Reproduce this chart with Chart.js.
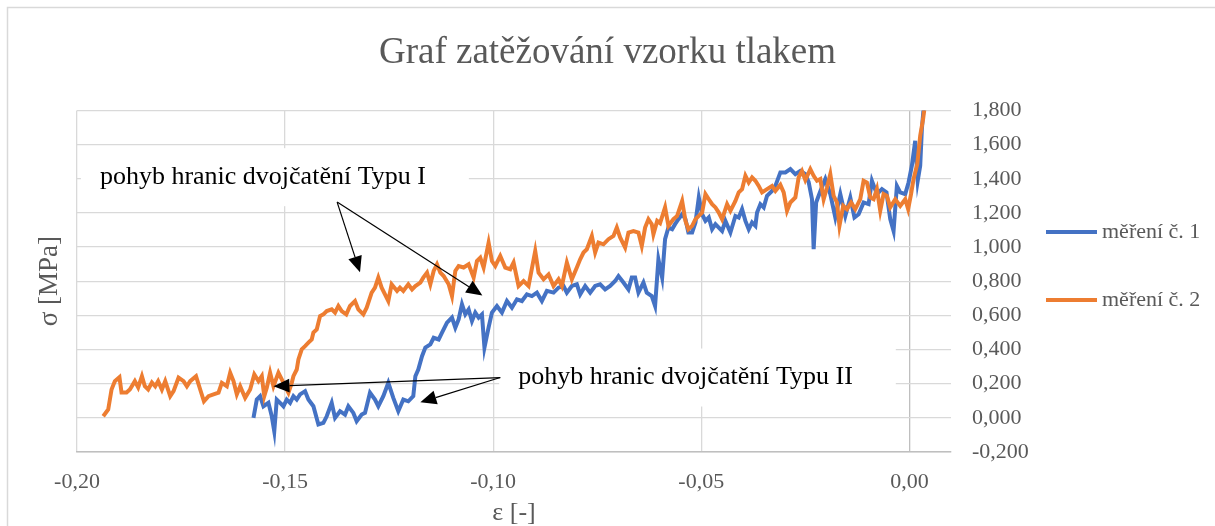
<!DOCTYPE html>
<html lang="cs">
<head>
<meta charset="utf-8">
<title>Graf zatěžování vzorku tlakem</title>
<script src="https://cdn.jsdelivr.net/npm/chart.js@4.4.1/dist/chart.umd.min.js"></script>
<style>
    html, body { margin: 0; padding: 0; background: #fff; }
    #obal { width: 1215px; height: 526px; }
</style>
</head>
<body>
<div id="obal"><canvas id="graf"></canvas></div>
<script>
// měření č. 1 (modrá)
var eps1 = [
    -0.1576, -0.1568, -0.1560, -0.1552, -0.1540, -0.1532, -0.1526, -0.1520, -0.1512, -0.1504,
    -0.1496, -0.1488, -0.1480, -0.1472, -0.1464, -0.1452, -0.1444, -0.1432, -0.1420, -0.1408,
    -0.1400, -0.1388, -0.1380, -0.1368, -0.1356, -0.1348, -0.1336, -0.1328, -0.1316, -0.1308,
    -0.1296, -0.1284, -0.1276, -0.1264, -0.1252, -0.1240, -0.1228, -0.1216, -0.1204, -0.1192,
    -0.1187, -0.1180, -0.1171, -0.1163, -0.1151, -0.1143, -0.1131, -0.1123, -0.1111, -0.1099,
    -0.1091, -0.1083, -0.1075, -0.1067, -0.1059, -0.1051, -0.1043, -0.1035, -0.1027, -0.1021,
    -0.1011, -0.1003, -0.0991, -0.0979, -0.0967, -0.0955, -0.0943, -0.0931, -0.0919, -0.0907,
    -0.0895, -0.0883, -0.0871, -0.0855, -0.0843, -0.0831, -0.0823, -0.0811, -0.0799, -0.0791,
    -0.0779, -0.0767, -0.0755, -0.0743, -0.0731, -0.0719, -0.0707, -0.0699, -0.0687, -0.0675,
    -0.0667, -0.0659, -0.0651, -0.0639, -0.0631, -0.0619, -0.0611, -0.0603, -0.0594, -0.0587,
    -0.0579, -0.0570, -0.0563, -0.0555, -0.0546, -0.0538, -0.0531, -0.0522, -0.0514, -0.0506,
    -0.0498, -0.0490, -0.0482, -0.0474, -0.0466, -0.0458, -0.0450, -0.0442, -0.0430, -0.0418,
    -0.0410, -0.0402, -0.0394, -0.0386, -0.0378, -0.0370, -0.0366, -0.0358, -0.0350, -0.0342,
    -0.0330, -0.0322, -0.0310, -0.0298, -0.0286, -0.0274, -0.0262, -0.0250, -0.0242, -0.0234,
    -0.0230, -0.0224, -0.0214, -0.0202, -0.0190, -0.0178, -0.0166, -0.0154, -0.0142, -0.0132,
    -0.0122, -0.0110, -0.0098, -0.0090, -0.0078, -0.0066, -0.0055, -0.0046, -0.0038, -0.0030,
    -0.0022, -0.0010, -0.0002, 0.0006, 0.0014, 0.0020, 0.0026, 0.0030, 0.0034, 0.0036
];
var sig1 = [
    0.000, 0.107, 0.127, 0.068, 0.088, 0.009, -0.079, 0.107, 0.088, 0.068,
    0.107, 0.088, 0.127, 0.107, 0.137, 0.156, 0.107, 0.068, -0.039, -0.029,
    0.009, 0.088, 0.000, 0.039, 0.019, 0.068, 0.029, -0.020, 0.019, 0.029,
    0.147, 0.107, 0.068, 0.127, 0.205, 0.117, 0.039, 0.107, 0.097, 0.127,
    0.244, 0.283, 0.361, 0.411, 0.430, 0.469, 0.459, 0.499, 0.557, 0.587,
    0.528, 0.577, 0.665, 0.606, 0.635, 0.567, 0.616, 0.587, 0.606, 0.411,
    0.530, 0.616, 0.655, 0.616, 0.684, 0.645, 0.694, 0.684, 0.723, 0.713,
    0.733, 0.684, 0.743, 0.733, 0.762, 0.772, 0.733, 0.772, 0.782, 0.723,
    0.772, 0.733, 0.772, 0.782, 0.752, 0.772, 0.801, 0.830, 0.792, 0.752,
    0.821, 0.821, 0.733, 0.792, 0.733, 0.713, 0.655, 0.928, 0.821, 1.046,
    1.114, 1.104, 1.134, 1.163, 1.192, 1.163, 1.085, 1.085, 1.144, 1.290,
    1.192, 1.153, 1.173, 1.104, 1.134, 1.114, 1.094, 1.153, 1.085, 1.182,
    1.173, 1.222, 1.153, 1.104, 1.144, 1.124, 1.202, 1.251, 1.232, 1.300,
    1.329, 1.358, 1.437, 1.437, 1.456, 1.427, 1.446, 1.427, 1.380, 1.280,
    0.987, 1.261, 1.327, 1.398, 1.310, 1.173, 1.310, 1.182, 1.290, 1.173,
    1.192, 1.261, 1.251, 1.388, 1.310, 1.339, 1.320, 1.163, 1.094, 1.358,
    1.320, 1.310, 1.378, 1.476, 1.622, 1.388, 1.476, 1.690, 1.808, 1.850
];

// měření č. 2 (oranžová)
var eps2 = [
    -0.1937, -0.1925, -0.1917, -0.1909, -0.1898, -0.1893, -0.1881, -0.1873, -0.1861, -0.1853,
    -0.1844, -0.1837, -0.1829, -0.1820, -0.1812, -0.1805, -0.1796, -0.1788, -0.1776, -0.1768,
    -0.1756, -0.1744, -0.1736, -0.1728, -0.1714, -0.1704, -0.1695, -0.1684, -0.1672, -0.1660,
    -0.1652, -0.1640, -0.1632, -0.1624, -0.1616, -0.1608, -0.1596, -0.1584, -0.1574, -0.1564,
    -0.1556, -0.1550, -0.1544, -0.1536, -0.1528, -0.1516, -0.1508, -0.1492, -0.1484, -0.1480,
    -0.1472, -0.1468, -0.1460, -0.1452, -0.1444, -0.1436, -0.1432, -0.1424, -0.1416, -0.1408,
    -0.1400, -0.1388, -0.1380, -0.1372, -0.1364, -0.1353, -0.1344, -0.1332, -0.1324, -0.1312,
    -0.1304, -0.1292, -0.1284, -0.1276, -0.1268, -0.1260, -0.1252, -0.1244, -0.1231, -0.1224,
    -0.1216, -0.1204, -0.1195, -0.1187, -0.1175, -0.1168, -0.1159, -0.1151, -0.1143, -0.1135,
    -0.1127, -0.1119, -0.1107, -0.1099, -0.1091, -0.1083, -0.1071, -0.1059, -0.1047, -0.1039,
    -0.1031, -0.1023, -0.1011, -0.1003, -0.0995, -0.0983, -0.0971, -0.0959, -0.0951, -0.0939,
    -0.0927, -0.0915, -0.0899, -0.0891, -0.0879, -0.0867, -0.0855, -0.0843, -0.0835, -0.0823,
    -0.0811, -0.0799, -0.0791, -0.0783, -0.0775, -0.0763, -0.0755, -0.0747, -0.0735, -0.0723,
    -0.0711, -0.0703, -0.0695, -0.0683, -0.0675, -0.0663, -0.0651, -0.0643, -0.0635, -0.0627,
    -0.0619, -0.0615, -0.0606, -0.0599, -0.0587, -0.0579, -0.0567, -0.0558, -0.0546, -0.0538,
    -0.0531, -0.0522, -0.0514, -0.0506, -0.0498, -0.0490, -0.0482, -0.0474, -0.0466, -0.0458,
    -0.0450, -0.0438, -0.0430, -0.0418, -0.0410, -0.0402, -0.0394, -0.0386, -0.0378, -0.0370,
    -0.0362, -0.0354, -0.0342, -0.0330, -0.0322, -0.0310, -0.0302, -0.0294, -0.0286, -0.0274,
    -0.0266, -0.0258, -0.0250, -0.0238, -0.0230, -0.0222, -0.0214, -0.0206, -0.0198, -0.0190,
    -0.0182, -0.0174, -0.0168, -0.0159, -0.0150, -0.0140, -0.0130, -0.0118, -0.0110, -0.0102,
    -0.0094, -0.0086, -0.0078, -0.0070, -0.0062, -0.0054, -0.0046, -0.0034, -0.0022, -0.0010,
    -0.0003, 0.0004, 0.0010, 0.0019, 0.0026, 0.0033, 0.0036, 0.0038
];
var sig2 = [
    0.009, 0.049, 0.166, 0.215, 0.238, 0.148, 0.148, 0.166, 0.215, 0.178,
    0.244, 0.185, 0.166, 0.207, 0.185, 0.215, 0.166, 0.215, 0.127, 0.156,
    0.235, 0.215, 0.185, 0.215, 0.244, 0.166, 0.097, 0.127, 0.137, 0.147,
    0.205, 0.185, 0.264, 0.215, 0.137, 0.185, 0.117, 0.166, 0.254, 0.215,
    0.244, 0.127, 0.176, 0.264, 0.185, 0.264, 0.225, 0.147, 0.205, 0.244,
    0.283, 0.342, 0.401, 0.420, 0.440, 0.459, 0.499, 0.518, 0.596, 0.606,
    0.625, 0.635, 0.616, 0.655, 0.625, 0.606, 0.655, 0.684, 0.635, 0.606,
    0.645, 0.733, 0.762, 0.821, 0.762, 0.723, 0.684, 0.782, 0.743, 0.762,
    0.743, 0.782, 0.752, 0.772, 0.792, 0.821, 0.850, 0.782, 0.860, 0.899,
    0.850, 0.830, 0.782, 0.713, 0.860, 0.889, 0.880, 0.899, 0.821, 0.918,
    0.938, 0.880, 1.026, 0.918, 0.889, 0.948, 0.880, 0.870, 0.909, 0.772,
    0.801, 0.772, 0.977, 0.850, 0.811, 0.840, 0.772, 0.811, 0.772, 0.909,
    0.811, 0.880, 0.928, 0.968, 0.987, 1.065, 0.968, 1.026, 1.016, 1.046,
    1.065, 1.114, 1.056, 0.997, 1.085, 1.094, 1.085, 1.006, 1.114, 1.163,
    1.134, 1.075, 1.153, 1.140, 1.232, 1.124, 1.163, 1.182, 1.270, 1.153,
    1.104, 1.124, 1.163, 1.182, 1.202, 1.310, 1.280, 1.251, 1.232, 1.202,
    1.163, 1.251, 1.212, 1.270, 1.320, 1.339, 1.417, 1.378, 1.408, 1.388,
    1.358, 1.320, 1.339, 1.358, 1.329, 1.364, 1.320, 1.212, 1.261, 1.290,
    1.409, 1.445, 1.392, 1.456, 1.417, 1.388, 1.398, 1.280, 1.349, 1.427,
    1.300, 1.261, 1.124, 1.241, 1.222, 1.261, 1.222, 1.280, 1.388, 1.378,
    1.290, 1.280, 1.339, 1.212, 1.310, 1.300, 1.232, 1.280, 1.241, 1.280,
    1.222, 1.310, 1.398, 1.486, 1.652, 1.750, 1.808, 1.840
];

var nazvySerii = ["měření č. 1", "měření č. 2"];
var xTicks = [-0.20, -0.15, -0.10, -0.05, 0.00];
var yTicks = [-0.2, 0.0, 0.2, 0.4, 0.6, 0.8, 1.0, 1.2, 1.4, 1.6, 1.8];

// popisky se šipkami, souřadnice v jednotkách os
var popisky = [
    { text: "pohyb hranic dvojčatění Typu I", x: -0.1945, y: 1.409,
      od: [-0.1375, 1.263], k: [[-0.1320, 0.852], [-0.1026, 0.717]] },
    { text: "pohyb hranic dvojčatění Typu II", x: -0.0940, y: 0.236,
      od: [-0.0983, 0.236], k: [[-0.1528, 0.185], [-0.1175, 0.091]] }
];

var PISMO = "'Liberation Serif', 'Times New Roman', serif";
var SEDA = "#595959";

document.addEventListener("DOMContentLoaded", iniciarGraf);

function body(xs, ys) {
    return xs.map(function (x, i) { return { x: x, y: ys[i] }; });
}

function sipka(ctx, x0, y0, x1, y1) {
    var uhel = Math.atan2(y1 - y0, x1 - x0);
    var delka = 16, sirka = 7;
    var bx = x1 - delka * Math.cos(uhel), by = y1 - delka * Math.sin(uhel);
    ctx.beginPath();
    ctx.moveTo(x0, y0);
    ctx.lineTo(bx, by);
    ctx.stroke();
    ctx.beginPath();
    ctx.moveTo(x1, y1);
    ctx.lineTo(bx + sirka * Math.sin(uhel), by - sirka * Math.cos(uhel));
    ctx.lineTo(bx - sirka * Math.sin(uhel), by + sirka * Math.cos(uhel));
    ctx.closePath();
    ctx.fill();
}

var doplnky = {
    id: "doplnky",
    beforeDraw: function (chart) {
        var ctx = chart.ctx;
        ctx.save();
        ctx.strokeStyle = "#d9d9d9";
        ctx.lineWidth = 1.5;
        ctx.strokeRect(7.5, 7.5, chart.width + 20, chart.height + 20);
        ctx.restore();
    },
    beforeDatasetsDraw: function (chart) {
        var ctx = chart.ctx, sx = chart.scales.x, sy = chart.scales.y;
        ctx.save();
        ctx.font = "26px " + PISMO;
        ctx.fillStyle = "#ffffff";
        popisky.forEach(function (p) {
            var px = sx.getPixelForValue(p.x), py = sy.getPixelForValue(p.y);
            var w = ctx.measureText(p.text).width;
            ctx.fillRect(px - 19, py - 29, w + 62, 58);
        });
        ctx.restore();
    },
    afterDatasetsDraw: function (chart) {
        var ctx = chart.ctx, sx = chart.scales.x, sy = chart.scales.y;
        ctx.save();
        ctx.strokeStyle = "#000";
        ctx.fillStyle = "#000";
        ctx.lineWidth = 1.2;
        popisky.forEach(function (p) {
            var x0 = sx.getPixelForValue(p.od[0]), y0 = sy.getPixelForValue(p.od[1]);
            p.k.forEach(function (t) {
                sipka(ctx, x0, y0, sx.getPixelForValue(t[0]), sy.getPixelForValue(t[1]));
            });
            ctx.font = "26px " + PISMO;
            ctx.textAlign = "left";
            ctx.textBaseline = "middle";
            ctx.fillText(p.text, sx.getPixelForValue(p.x), sy.getPixelForValue(p.y));
        });
        ctx.restore();
    },
    afterDraw: function (chart) {
        var ctx = chart.ctx;
        var radky = [232, 300];
        ctx.save();
        ctx.font = "22px " + PISMO;
        ctx.textAlign = "left";
        ctx.textBaseline = "middle";
        chart.data.datasets.forEach(function (ds, i) {
            ctx.strokeStyle = ds.borderColor;
            ctx.lineWidth = 4;
            ctx.beginPath();
            ctx.moveTo(1046, radky[i]);
            ctx.lineTo(1097, radky[i]);
            ctx.stroke();
            ctx.fillStyle = SEDA;
            ctx.fillText(ds.label, 1102, radky[i]);
        });
        ctx.restore();
    }
};

function iniciarGraf() {
    var canvas = document.getElementById("graf");
    if (!canvas) return;
    crearGraf(canvas);
}

function crearGraf(canvas) {
    Chart.defaults.font.family = PISMO;
    Chart.defaults.color = SEDA;

    var chart = new Chart(canvas, {
        type: "scatter",
        data: {
            datasets: [
                {
                    label: nazvySerii[0],
                    data: body(eps1, sig1),
                    showLine: true,
                    order: 1,
                    borderColor: "#4472C4",
                    backgroundColor: "#4472C4",
                    borderWidth: 4,
                    pointRadius: 0,
                    tension: 0
                },
                {
                    label: nazvySerii[1],
                    data: body(eps2, sig2),
                    showLine: true,
                    order: 0,
                    borderColor: "#ED7D31",
                    backgroundColor: "#ED7D31",
                    borderWidth: 4,
                    pointRadius: 0,
                    tension: 0
                }
            ]
        },
        options: {
            responsive: true,
            maintainAspectRatio: false,
            animation: false,
            layout: { padding: 0 },
            plugins: {
                legend: { display: false },
                tooltip: { enabled: false },
                title: {
                    display: true,
                    text: "Graf zatěžování vzorku tlakem",
                    color: SEDA,
                    font: { size: 37, weight: "normal", lineHeight: 1.2 },
                    padding: { top: 31, bottom: 35 }
                }
            },
            scales: {
                x: {
                    type: "linear",
                    min: -0.2,
                    max: 0.01,
                    afterBuildTicks: function (s) {
                        s.ticks = xTicks.map(function (v) { return { value: v }; });
                    },
                    afterFit: function (s) { s.height = 74; },
                    grid: {
                        drawTicks: false,
                        lineWidth: 1.3,
                        color: function (c) { return c.tick && c.tick.value === 0 ? "#bfbfbf" : "#d9d9d9"; }
                    },
                    border: { display: true, color: "#bfbfbf", width: 1.5 },
                    ticks: {
                        padding: 17,
                        font: { size: 22 },
                        color: SEDA,
                        callback: function (v) { return v.toFixed(2).replace(".", ","); }
                    },
                    title: {
                        display: true,
                        text: "ε [-]",
                        color: SEDA,
                        font: { size: 26, lineHeight: 1 },
                        padding: { top: 0, bottom: 0 }
                    }
                },
                y: {
                    type: "linear",
                    position: "right",
                    min: -0.2,
                    max: 1.8,
                    afterBuildTicks: function (s) {
                        s.ticks = yTicks.map(function (v) { return { value: v }; });
                    },
                    afterFit: function (s) { s.width = 264; },
                    grid: { drawTicks: false, lineWidth: 1.3, color: "#d9d9d9" },
                    border: { display: false },
                    ticks: {
                        padding: 21,
                        font: { size: 22 },
                        color: SEDA,
                        callback: function (v) { return v.toFixed(3).replace(".", ","); }
                    }
                },
                yPopis: {
                    type: "linear",
                    position: "left",
                    min: -0.2,
                    max: 1.8,
                    afterFit: function (s) { s.width = 77; },
                    grid: { display: false },
                    border: { display: false },
                    ticks: { display: false },
                    title: {
                        display: true,
                        text: "σ [MPa]",
                        color: SEDA,
                        font: { size: 27, lineHeight: 1 },
                        padding: { top: 36, bottom: 0 }
                    }
                }
            }
        },
        plugins: [doplnky]
    });

    return chart;
}
</script>
</body>
</html>
